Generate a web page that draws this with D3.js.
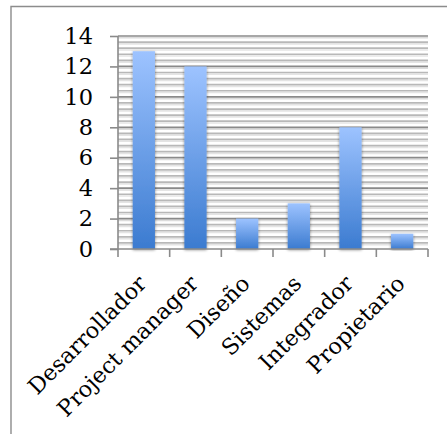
<!DOCTYPE html>
<html><head><meta charset="utf-8">
<script src="https://cdn.jsdelivr.net/npm/d3@7"></script>
<style>html,body{margin:0;padding:0;background:#fff;}svg{display:block;}</style>
</head><body>
<script>
const categories = ["Desarrollador","Project manager","Diseño","Sistemas","Integrador","Propietario"];
const values = [13, 12, 2, 3, 8, 1];
const yTicks = [0, 2, 4, 6, 8, 10, 12, 14];

const W = 447, H = 434;
const pLeft = 118, pRight = 428, pTop = 36, pBottom = 249;
const font = "'DejaVu Serif', serif";

const svg = d3.select("body").append("svg").attr("width", W).attr("height", H);
const defs = svg.append("defs");
const grad = defs.append("linearGradient").attr("id","barGrad").attr("x1",0).attr("y1",0).attr("x2",0).attr("y2",1);
grad.append("stop").attr("offset","0%").attr("stop-color","#9dc3ff");
grad.append("stop").attr("offset","100%").attr("stop-color","#3b7bd0");
const f = defs.append("filter").attr("id","shadow").attr("x","-30%").attr("y","-10%").attr("width","160%").attr("height","120%");
f.append("feGaussianBlur").attr("in","SourceAlpha").attr("stdDeviation",1.6).attr("result","b");
f.append("feOffset").attr("in","b").attr("dx",0).attr("dy",1).attr("result","o");
f.append("feComponentTransfer").attr("in","o").attr("result","s").append("feFuncA").attr("type","linear").attr("slope",0.45);
const m = f.append("feMerge"); m.append("feMergeNode").attr("in","s"); m.append("feMergeNode").attr("in","SourceGraphic");

// frame
svg.append("path").attr("d", `M${W},6.5 L11,6.5 L11,${H}`).attr("fill","none").attr("stroke","#8c8c8c").attr("stroke-width",1.4);

const x = d3.scaleBand().domain(categories).range([pLeft, pRight]).paddingInner(0.57).paddingOuter(0.285);
const xb = d3.scaleBand().domain(categories).range([pLeft, pRight]);
const y = d3.scaleLinear().domain([0, 14]).range([pBottom, pTop]);

// minor gridlines
const minor = d3.range(0, 35).map(i => i * 0.4).filter(v => Math.abs(v/2 - Math.round(v/2)) > 1e-6);
const g = svg.append("g");
g.selectAll(".mnshadow").data(minor).enter().append("line")
  .attr("x1", pLeft).attr("x2", pRight).attr("y1", d => y(d) + 1.8).attr("y2", d => y(d) + 1.8)
  .attr("stroke", "#e4e4e4").attr("stroke-width", 1.6);
g.selectAll(".mn").data(minor).enter().append("line")
  .attr("x1", pLeft).attr("x2", pRight).attr("y1", d => y(d)).attr("y2", d => y(d))
  .attr("stroke", "#b8b8b8").attr("stroke-width", 1.7);
g.selectAll(".mjshadow").data(yTicks.slice(1)).enter().append("line")
  .attr("x1", pLeft).attr("x2", pRight).attr("y1", d => y(d) + 1.8).attr("y2", d => y(d) + 1.8)
  .attr("stroke", "#dcdcdc").attr("stroke-width", 1.6);
g.selectAll(".mj").data(yTicks.slice(1)).enter().append("line")
  .attr("x1", pLeft).attr("x2", pRight).attr("y1", d => y(d)).attr("y2", d => y(d))
  .attr("stroke", "#8a8a8a").attr("stroke-width", 1.7);

// bars
svg.append("g").selectAll("rect").data(values).enter().append("rect")
  .attr("x", (d,i) => x(categories[i])).attr("width", x.bandwidth())
  .attr("y", d => y(d)).attr("height", d => y(0) - y(d))
  .attr("fill", "url(#barGrad)").attr("filter","url(#shadow)");

// y axis
const ya = svg.append("g").attr("transform", `translate(${pLeft},0)`)
  .call(d3.axisLeft(y).tickValues(yTicks).tickSize(8).tickPadding(17));
ya.select(".domain").attr("stroke","#8a8a8a").attr("stroke-width",1.6).attr("d", `M0,${pTop}V${pBottom}`);
ya.selectAll(".tick line").attr("stroke","#8a8a8a").attr("stroke-width",1.6);
ya.selectAll(".tick text").attr("font-family", font).attr("font-size", 22.5).attr("fill","#000");

// x axis
const xa = svg.append("g").attr("transform", `translate(0,${pBottom})`);
xa.append("line").attr("x1", pLeft - 8).attr("x2", pRight).attr("y1", 0).attr("y2", 0)
  .attr("stroke","#8a8a8a").attr("stroke-width",1.6);
const bounds = categories.map(c => xb(c)).concat([pRight]);
xa.selectAll(".xt").data(bounds).enter().append("line")
  .attr("x1", d => d).attr("x2", d => d).attr("y1", 0).attr("y2", 8)
  .attr("stroke","#8a8a8a").attr("stroke-width",1.6);
xa.selectAll(".xl").data(categories).enter().append("text")
  .attr("transform", d => `translate(${xb(d) + xb.bandwidth()/2 + 4},${36}) rotate(-45)`)
  .attr("text-anchor","end").attr("font-family", font).attr("font-size", 22.3).attr("fill","#000")
  .text(d => d);
</script>
</body></html>
